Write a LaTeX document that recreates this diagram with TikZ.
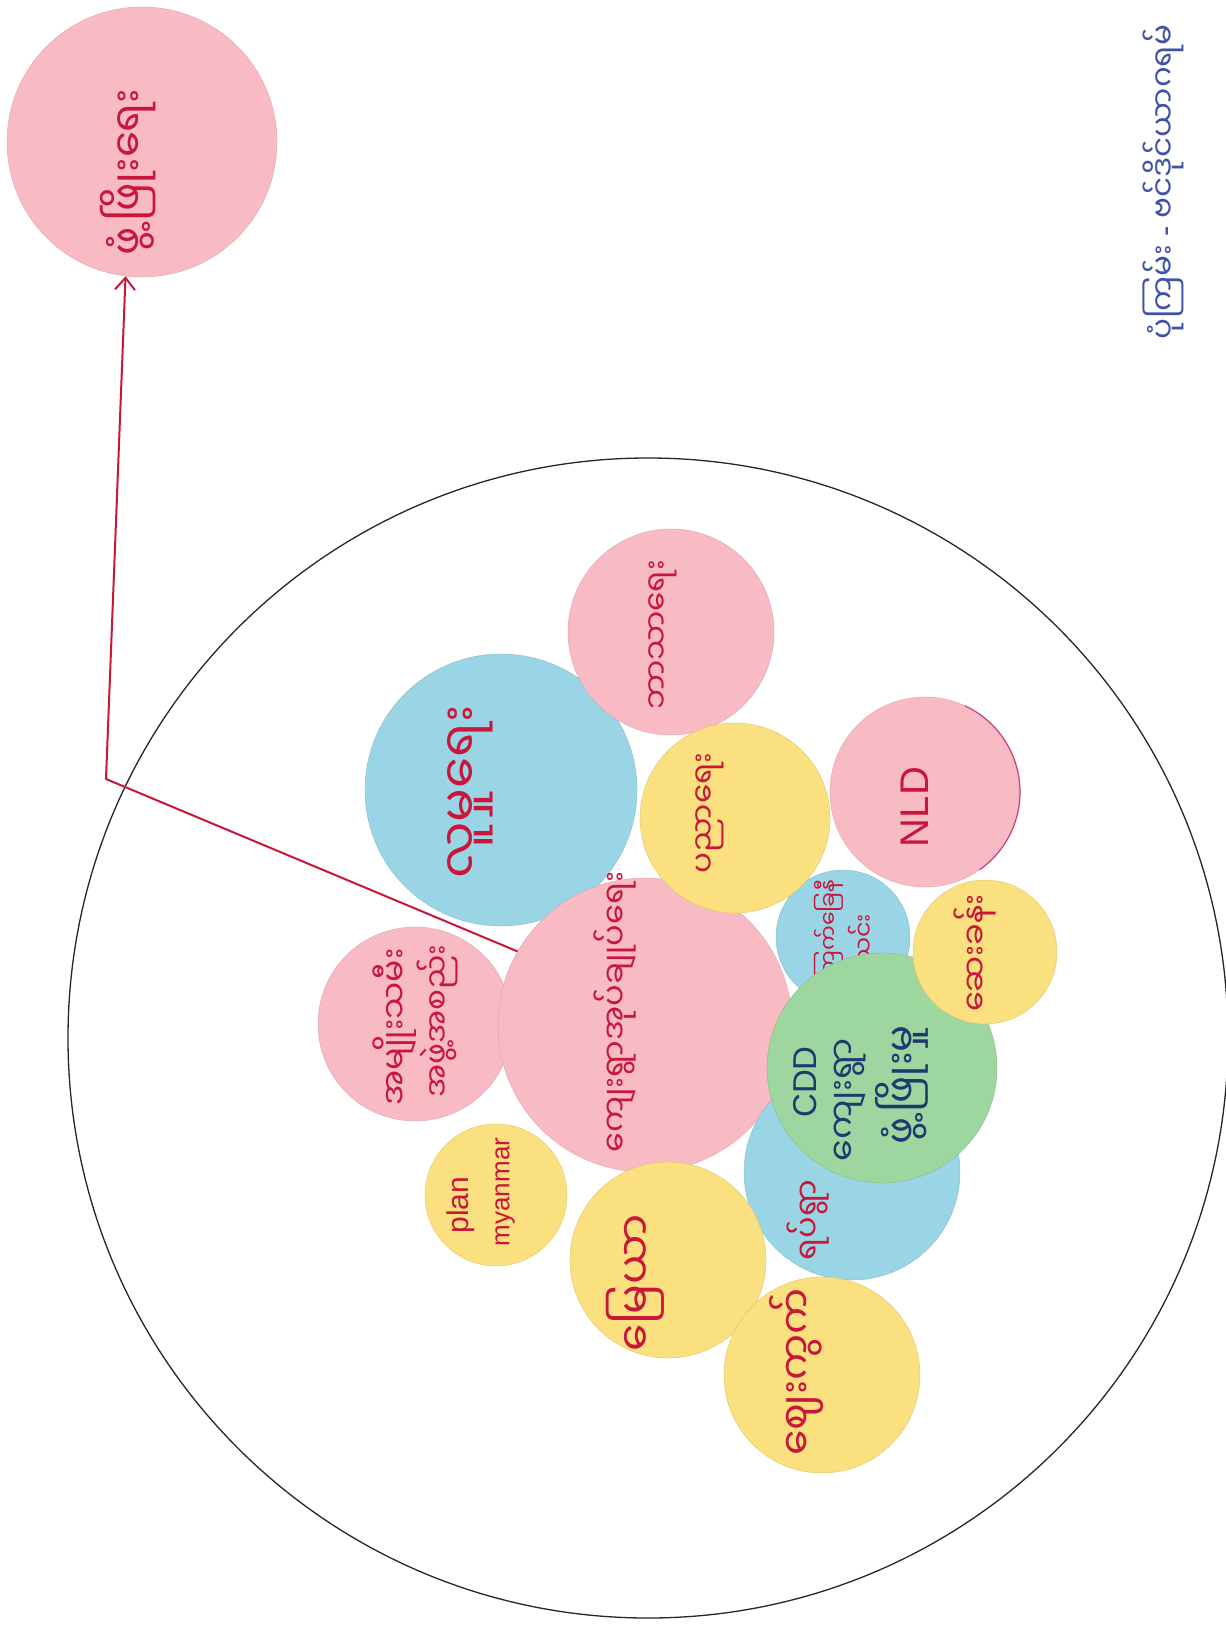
\documentclass[tikz,border=0pt]{standalone}
\usepackage{fontspec}
\usetikzlibrary{arrows.meta}
\newfontfamily\mmfont[Script=Myanmar]{Noto Sans Myanmar UI}
\newfontfamily\latfont{Liberation Sans}
\definecolor{ppink}{HTML}{F8BAC3}
\definecolor{pblue}{HTML}{9AD5E6}
\definecolor{pyellow}{HTML}{FAE07E}
\definecolor{pgreen}{HTML}{9ED69F}
\definecolor{inkred}{HTML}{C8173A}
\definecolor{inknavy}{HTML}{1E3A6E}
\definecolor{inkblue}{HTML}{3F52A8}
\definecolor{edgemag}{HTML}{C8407F}
\newcommand\mmsz[1]{\mmfont\fontsize{#1}{#1}\selectfont}
\newcommand\latsz[1]{\latfont\fontsize{#1}{#1}\selectfont}
\begin{document}
\begin{tikzpicture}[x=1pt,y=-1pt,
  paper/.style={circle, inner sep=0pt, minimum size=#1, line width=0.4pt},
  pinkc/.style={paper=#1, fill=ppink, draw=ppink!88!black},
  bluec/.style={paper=#1, fill=pblue, draw=pblue!88!black},
  yellowc/.style={paper=#1, fill=pyellow, draw=pyellow!88!black},
  greenc/.style={paper=#1, fill=pgreen, draw=pgreen!88!black},
  mm/.style={rotate=90, inner sep=0pt, text=inkred, font=\mmsz{#1}},
  mmnavy/.style={mm=#1, text=inknavy},
  lat/.style={rotate=90, inner sep=0pt, text=inkred, font=\latsz{#1}},
  redline/.style={draw=inkred, line width=2pt, line join=round},
  outline/.style={draw=black!85, line width=1.3pt}
]
\fill[white] (0,0) rectangle (1226,1625);
\useasboundingbox (0,0) rectangle (1226,1625);

% big outline circle
\node[outline, circle, inner sep=0pt, minimum size=1160pt] (big) at (648,1038) {};

% goal circle
\node[pinkc=270pt] (goal) at (142,142) {};
\node[mm=42] (tgoal) at (128,172) {ဖွံ့ဖြိုးရေး};

% blue big
\node[bluec=272pt] (bluebig) at (501,790) {};
\node[mm=50] (tbluebig) at (470,792) {လူမှုရေး};

% top pink
\node[pinkc=206pt] (toppink) at (671,632) {};
\node[mm=31] (ttoppink) at (663,635) {ဘာသာရေး};

% NLD circle
\node[pinkc=190pt] (nld) at (925,792) {};
\draw[edgemag, line width=1.2pt] (925,792) ++(-65:95) arc[start angle=-65, end angle=55, radius=95];
\node[lat=40] (tnld) at (915,807) {NLD};

% small blue circle
\node[bluec=134pt] (bluesmall) at (843,937) {};
\node[mm=22] (tbs1) at (829,930) {ကြက်ခြေနီ};
\node[mm=24] (tbs2) at (861,952) {အသင်း};

% left pink
\node[pinkc=194pt] (leftpink) at (415,1024) {};
\node[mm=33] (tlp1) at (395,1027) {အမျိုးသမီး};
\node[mm=31] (tlp2) at (437,1021) {အဖွဲ့အစည်း};

% central pink
\node[pinkc=294pt] (central) at (645,1025) {};
\node[mm=32] (tcentral) at (615,1012) {ကျေးရွာအုပ်ချုပ်ရေး};

% yellow near top
\node[yellowc=190pt] (yellowa) at (735,818) {};
\node[mm=31] (tyellowa) at (710,813) {ပညာရေး};

% lower blue
\node[bluec=216pt] (bluelow) at (852,1172) {};
\node[mm=32] (tbluelow) at (808,1220) {ရပ်ရွာ};

% green circle
\node[greenc=230pt] (green) at (882,1068) {};
\node[lat=33, text=inknavy] (tg1) at (805,1082) {CDD};
\node[mmnavy=35] (tg2) at (850,1100) {ကျေးရွာ};
\node[mmnavy=40] (tg3) at (902,1085) {ဖွံ့ဖြိုးမှု};

% yellow right
\node[yellowc=144pt] (yellowr) at (985,952) {};
\node[mm=32] (tyellowr) at (975,953) {ဆေးခန်း};

% yellow plan
\node[yellowc=142pt] (yellowp) at (496,1195) {};
\node[lat=30] (tp1) at (461,1205) {plan};
\node[lat=26] (tp2) at (505,1192) {myanmar};

% yellow lower middle
\node[yellowc=196pt] (yellowm) at (668,1260) {};
\node[mm=44] (tyellowm) at (635,1283) {မြေယာ};

% yellow bottom
\node[yellowc=196pt] (yellowb) at (822,1375) {};
\node[mm=41] (tyellowb) at (796,1372) {ဈေးကွက်};

% arrow
\coordinate (corner) at (106,779);
\draw[redline, -{Straight Barb[length=12pt, width=20pt]}] (central.150) -- (corner) -- (goal.263);

% title
\node[mm=31, text=inkblue] (title) at (1163,182) {ပုံကြမ်း {\latfont -} ဗင်ဒိုင်ယာဂရမ်};
\end{tikzpicture}
\end{document}
